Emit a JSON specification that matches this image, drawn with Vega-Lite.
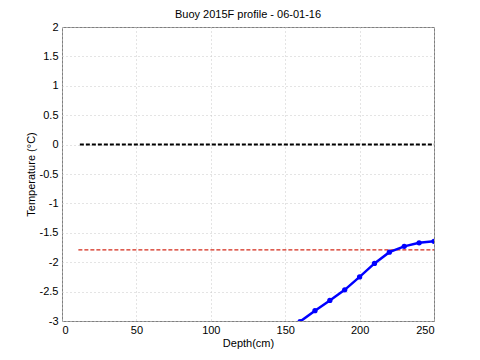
{
  "$schema": "https://vega.github.io/schema/vega-lite/v6.json",
  "width": 372,
  "height": 294,
  "autosize": {"type": "none"},
  "padding": {"left": 62, "top": 27, "right": 46, "bottom": 39},
  "background": "white",
  "title": {
    "text": "Buoy 2015F profile - 06-01-16",
    "font": "Liberation Sans",
    "fontSize": 11,
    "fontWeight": "normal",
    "color": "black",
    "offset": 1
  },
  "config": {
    "view": {"stroke": "#7f7f7f", "strokeWidth": 1},
    "axis": {
      "labelFont": "Liberation Sans",
      "labelFontSize": 11,
      "labelColor": "black",
      "titleFont": "Liberation Sans",
      "titleFontSize": 11,
      "titleFontWeight": "normal",
      "titleColor": "black",
      "domain": false,
      "ticks": false,
      "grid": true,
      "gridColor": "#c8c8c8",
      "gridDash": [1, 3],
      "gridWidth": 1
    }
  },
  "datasets": {
    "profile": [
      {"depth": 150, "temp": -3.2},
      {"depth": 160, "temp": -3.01},
      {"depth": 170, "temp": -2.825},
      {"depth": 180, "temp": -2.65},
      {"depth": 190, "temp": -2.47},
      {"depth": 200, "temp": -2.25},
      {"depth": 210, "temp": -2.02},
      {"depth": 220, "temp": -1.83},
      {"depth": 230, "temp": -1.73},
      {"depth": 240, "temp": -1.67},
      {"depth": 250, "temp": -1.645}
    ],
    "zero": [
      {"depth": 12, "temp": 0},
      {"depth": 250, "temp": 0}
    ],
    "freeze": [
      {"depth": 11, "temp": -1.79},
      {"depth": 250, "temp": -1.79}
    ]
  },
  "encoding": {
    "x": {
      "field": "depth",
      "type": "quantitative",
      "scale": {"domain": [0, 250], "nice": false, "zero": false},
      "axis": {"title": "Depth(cm)", "values": [0, 50, 100, 150, 200, 250], "labelExpr": "'' + datum.value", "labelPadding": 3, "titlePadding": 2}
    },
    "y": {
      "field": "temp",
      "type": "quantitative",
      "scale": {"domain": [-3, 2], "nice": false, "zero": false},
      "axis": {"title": "Temperature (°C)", "values": [-3, -2.5, -2, -1.5, -1, -0.5, 0, 0.5, 1, 1.5, 2], "labelExpr": "'' + datum.value", "labelPadding": 4, "titlePadding": 3}
    }
  },
  "layer": [
    {
      "data": {"name": "zero"},
      "mark": {"type": "line", "color": "black", "strokeWidth": 2, "strokeDash": [4, 2], "clip": true}
    },
    {
      "data": {"name": "freeze"},
      "mark": {"type": "line", "color": "#d42a1a", "strokeWidth": 1.2, "strokeDash": [4, 2], "clip": true}
    },
    {
      "data": {"name": "profile"},
      "mark": {"type": "line", "color": "#0000ff", "strokeWidth": 2.5, "clip": true, "point": {"filled": true, "size": 28, "color": "#0000ff"}}
    }
  ]
}
